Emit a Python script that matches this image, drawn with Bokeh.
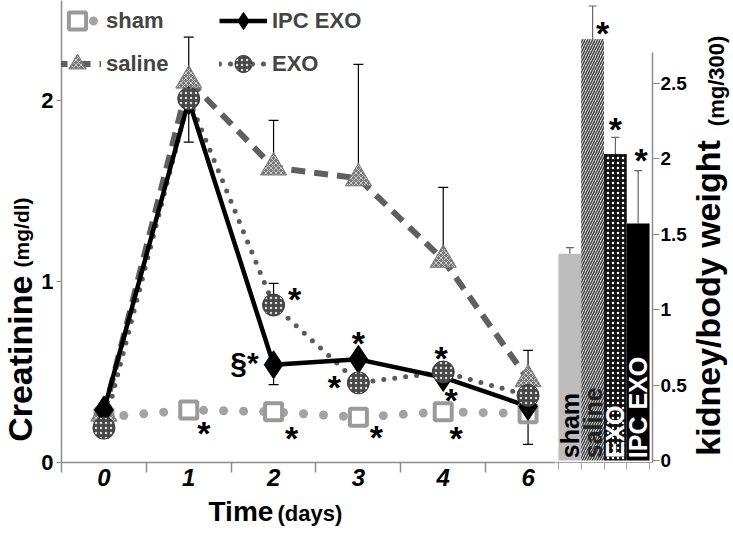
import math
from bokeh.plotting import figure
from bokeh.layouts import row, column
from bokeh.models import (Range1d, FixedTicker, ColumnDataSource, Whisker, TeeHead,
                          Legend, LegendItem)
from bokeh.core.properties import value
from bokeh.embed import file_html
from bokeh.resources import INLINE

# ---------------- data ----------------
days = ["0", "1", "2", "3", "4", "6"]
sham = [0.25, 0.29, 0.28, 0.25, 0.28, 0.27]
saline = [0.27, 2.11, 1.63, 1.57, 1.12, 0.46]
saline_err_up = [0.0, 0.24, 0.26, 0.63, 0.40, 0.16]
ipc_exo = [0.29, 2.00, 0.54, 0.57, 0.47, 0.31]
ipc_exo_err_down = [0.0, 0.23, 0.11, 0.0, 0.0, 0.21]
exo = [0.19, 2.01, 0.87, 0.44, 0.50, 0.37]
exo_err_up = [0.0, 0.0, 0.12, 0.0, 0.0, 0.0]

groups = ["sham", "saline", "EXO", "IPC EXO"]
kidney_bw = [1.37, 2.79, 2.03, 1.57]
kidney_bw_err = [0.04, 0.22, 0.11, 0.35]

creat_ticks = [0, 1, 2]
kbw_ticks = [0, 0.5, 1, 1.5, 2, 2.5]
kbw_tick_labels = ["0", "0.5", "1", "1.5", "2", "2.5"]

# significance marks: (series, day index, text)
line_marks = [("sham", 1, "*"), ("sham", 2, "*"), ("sham", 3, "*"), ("sham", 4, "*"),
              ("exo", 2, "*"), ("ipc", 3, "*"), ("exo", 3, "*"), ("exo", 4, "*"),
              ("ipc", 4, "*")]
section_mark = ("ipc", 2, "§*")
bar_marks = [1, 2, 3]

# ---------------- styles / layout ----------------
FONT = "Liberation Sans"
AX = "#8c8c8c"
line_mark_off = [(15, 18), (18, 21), (18, 15), (13, 21), (21, -11), (0, -21), (-24, -1),
                 (-2, -19), (8, 18)]
bar_mark_off = [(10, -11), (0, -30), (3, -68)]
STAR_SHIFT = 5

series = {"sham": sham, "saline": saline, "ipc": ipc_exo, "exo": exo}
idx = list(range(len(days)))

PX_X, PX_Y, PX_B = 85, 181, 151
FRAME_W_A, FRAME_H, BOTTOM = 495, 462, 32
ROW_H = FRAME_H + BOTTOM
L_W, A_LEFT, B_FRAME_W, B_RIGHT, R_W = 38, 22, 98, 36, 42
TOTAL_W = L_W + A_LEFT + FRAME_W_A + B_FRAME_W + B_RIGHT + R_W
BOT_H = 40


def blank(w, h):
    f = figure(width=w, height=h, output_backend="svg", toolbar_location=None,
               x_range=Range1d(0, w), y_range=Range1d(0, h),
               x_axis_location=None, y_axis_location=None, min_border=0)
    f.xgrid.visible = False
    f.ygrid.visible = False
    f.outline_line_color = None
    return f


def words(f, xs, ys, texts, sizes, angle, align="left"):
    f.text(x=xs, y=ys, text=texts, angle=angle, text_font=value(FONT), text_font_style="bold",
           text_font_size=sizes, text_align=align, text_baseline="middle",
           text_color="black")


# ---------------- line chart ----------------
pA = figure(width=A_LEFT + FRAME_W_A, height=ROW_H, output_backend="svg", toolbar_location=None,
            x_range=Range1d(-0.5, FRAME_W_A / PX_X - 0.5),
            y_range=Range1d(0, FRAME_H / PX_Y),
            min_border_left=A_LEFT, min_border_right=0, min_border_top=0,
            min_border_bottom=BOTTOM)
pA.xgrid.visible = False
pA.ygrid.visible = False
pA.outline_line_color = None

l_sham = pA.line(idx, sham, line_color="#a3a3a3", line_width=9, line_dash="0 20", line_cap="round")
l_sal = pA.line(idx, saline, line_color="#5f5f5f", line_width=6, line_dash="14 9")
l_exo = pA.line(idx, exo, line_color="#5a5a5a", line_width=5, line_dash="0 11", line_cap="round")
l_ipc = pA.line(idx, ipc_exo, line_color="black", line_width=4.5)


def whisk(p, xs, lo, hi, up=True, color="black", size=10, width=1.2):
    src = ColumnDataSource(dict(x=xs, lo=lo, hi=hi))
    head = TeeHead(size=size, line_color=color, line_width=width)
    w = Whisker(source=src, base="x", lower="lo", upper="hi", dimension="height",
                line_color=color, line_width=width,
                upper_head=head if up else None, lower_head=None if up else head)
    p.add_layout(w)


si = [i for i, e in enumerate(saline_err_up) if e > 0]
whisk(pA, si, [saline[i] for i in si], [saline[i] + saline_err_up[i] for i in si])
ei = [i for i, e in enumerate(exo_err_up) if e > 0]
whisk(pA, ei, [exo[i] for i in ei], [exo[i] + exo_err_up[i] for i in ei])
ii = [i for i, e in enumerate(ipc_exo_err_down) if e > 0]
whisk(pA, ii, [ipc_exo[i] - ipc_exo_err_down[i] for i in ii], [ipc_exo[i] for i in ii], up=False)

m_sham = pA.scatter(idx, sham, marker="square", size=17, fill_color="white",
                    line_color="#9a9a9a", line_width=4)
m_sal = pA.scatter(idx, saline, marker="triangle", size=26, fill_color="#7a7a7a",
                   line_color="#767676", line_width=1, hatch_pattern="x", hatch_color="white",
                   hatch_scale=5, hatch_weight=1, hatch_alpha=0.6)
m_ipc = pA.scatter(idx, ipc_exo, marker="diamond", size=28, fill_color="black", line_color="black")
m_exo = pA.scatter(idx, exo, marker="circle", size=22, fill_color="#474747", line_color="#3a3a3a",
                   hatch_pattern=".", hatch_color="white", hatch_scale=5, hatch_weight=1.6,
                   hatch_alpha=0.8)

src_marks = ColumnDataSource(dict(
    x=[m[1] for m in line_marks],
    y=[series[m[0]][m[1]] for m in line_marks],
    t=[m[2] for m in line_marks],
    dx=[o[0] for o in line_mark_off],
    dy=[o[1] + STAR_SHIFT for o in line_mark_off]))
pA.text(x="x", y="y", text="t", x_offset="dx", y_offset="dy", source=src_marks,
        text_font=value(FONT), text_font_style="bold", text_font_size="34px",
        text_align="center", text_baseline="middle", text_color="black")
pA.text(x=[section_mark[1]], y=[series[section_mark[0]][section_mark[1]]], text=[section_mark[2]],
        x_offset=-15, y_offset=-2, text_font=value(FONT), text_font_style="bold",
        text_font_size="30px", text_align="right", text_baseline="middle", text_color="black")

pA.yaxis.ticker = FixedTicker(ticks=creat_ticks)
pA.yaxis.axis_line_color = AX
pA.yaxis.axis_line_width = 1.5
pA.yaxis.major_tick_line_color = AX
pA.yaxis.major_tick_out = 5
pA.yaxis.major_tick_in = 0
pA.yaxis.minor_tick_line_color = None
pA.yaxis.major_label_text_font = FONT
pA.yaxis.major_label_text_font_style = "bold"
pA.yaxis.major_label_text_font_size = "22px"
pA.yaxis.major_label_text_color = "black"
pA.yaxis.major_label_standoff = 3

pA.xaxis.ticker = FixedTicker(ticks=idx, minor_ticks=[i - 0.5 for i in idx])
pA.xaxis.major_label_overrides = {i: d for i, d in zip(idx, days)}
pA.xaxis.axis_line_color = AX
pA.xaxis.axis_line_width = 1.5
pA.xaxis.major_tick_out = 0
pA.xaxis.major_tick_in = 0
pA.xaxis.minor_tick_out = 10
pA.xaxis.minor_tick_in = 0
pA.xaxis.minor_tick_line_color = AX
pA.xaxis.minor_tick_line_width = 1.5
pA.xaxis.major_label_text_font = FONT
pA.xaxis.major_label_text_font_style = "bold italic"
pA.xaxis.major_label_text_font_size = "24px"
pA.xaxis.major_label_text_color = "black"
pA.xaxis.major_label_standoff = -4

common = dict(glyph_width=48, glyph_height=43, spacing=0, padding=0, margin=0, label_standoff=5,
              label_text_font=FONT, label_text_font_style="bold", label_text_font_size="22px",
              border_line_color=None, background_fill_alpha=0)
leg1 = Legend(items=[LegendItem(label="sham", renderers=[l_sham, m_sham]),
                     LegendItem(label="saline", renderers=[l_sal, m_sal])],
              location=(-8, 377), **common)
leg2 = Legend(items=[LegendItem(label="IPC EXO", renderers=[l_ipc, m_ipc]),
                     LegendItem(label="EXO", renderers=[l_exo, m_exo])],
              location=(158, 377), **common)
pA.add_layout(leg1)
pA.add_layout(leg2)

# ---------------- bar chart ----------------
pB = figure(width=B_FRAME_W + B_RIGHT, height=ROW_H, output_backend="svg", toolbar_location=None,
            x_range=Range1d(-0.13, 4.13), y_range=Range1d(-2 / PX_B, 460 / PX_B),
            y_axis_location="right",
            min_border_left=0, min_border_right=B_RIGHT, min_border_top=0,
            min_border_bottom=BOTTOM)
pB.xgrid.visible = False
pB.ygrid.visible = False
pB.outline_line_color = None

bx = [i + 0.5 for i in range(len(groups))]
bsrc = ColumnDataSource(dict(
    x=bx, top=kidney_bw, g=groups,
    fill=["#bdbdbd", "#d4d4d4", "#111111", "#000000"],
    hatch=[" ", "/", ".", " "],
    hcol=["#bdbdbd", "#3a3a3a", "white", "black"],
    tcol=["black", "#222222", "white", "white"]))
pB.vbar(x="x", top="top", bottom=0, width=1, source=bsrc, fill_color="fill", line_color=None,
        hatch_pattern="hatch", hatch_color="hcol", hatch_scale=5, hatch_weight=1.3)
whisk(pB, bx, kidney_bw, [v + e for v, e in zip(kidney_bw, kidney_bw_err)],
      color="#666666", size=8, width=1.2)
pB.text(x="x", y=0.015, text="g", source=bsrc, angle=math.pi / 2, text_color="tcol",
        text_font=value(FONT), text_font_style="bold", text_font_size="25px",
        text_align="left", text_baseline="middle")
pB.text(x=[bx[i] for i in bar_marks], y=[kidney_bw[i] for i in bar_marks],
        text=["*"] * len(bar_marks),
        x_offset=[o[0] for o in bar_mark_off], y_offset=[o[1] + STAR_SHIFT for o in bar_mark_off],
        text_font=value(FONT), text_font_style="bold", text_font_size="34px",
        text_align="center", text_baseline="middle", text_color="black")

pB.yaxis.ticker = FixedTicker(ticks=kbw_ticks)
pB.yaxis.major_label_overrides = {t: s for t, s in zip(kbw_ticks, kbw_tick_labels)}
pB.yaxis.bounds = (-2 / PX_B, 2.70)
pB.yaxis.axis_line_color = AX
pB.yaxis.axis_line_width = 1.5
pB.yaxis.major_tick_line_color = AX
pB.yaxis.major_tick_out = 7
pB.yaxis.major_tick_in = 0
pB.yaxis.minor_tick_line_color = None
pB.yaxis.major_label_text_font = FONT
pB.yaxis.major_label_text_font_style = "bold"
pB.yaxis.major_label_text_font_size = "19px"
pB.yaxis.major_label_text_color = "black"
pB.yaxis.major_label_standoff = 1

pB.xaxis.ticker = FixedTicker(ticks=list(range(len(groups) + 1)))
pB.xaxis.major_label_overrides = {i: "" for i in range(len(groups) + 1)}
pB.xaxis.axis_line_color = "#a0a0a0"
pB.xaxis.major_tick_line_color = "#a0a0a0"
pB.xaxis.major_tick_out = 7
pB.xaxis.major_tick_in = 0
pB.xaxis.minor_tick_line_color = None

# ---------------- axis titles (mixed sizes), placed by their centres ----------------
pL = blank(L_W, ROW_H)
words(pL, [19, 21], [ROW_H - 383, ROW_H - 248], ["Creatinine", "(mg/dl)"], ["34px", "21px"],
      math.pi / 2, "center")

pR = blank(R_W, ROW_H)
words(pR, [18, 27], [ROW_H - 318, ROW_H - 86], ["kidney/body weight", "(mg/300)"],
      ["34px", "22px"], math.pi / 2, "center")

pBot = blank(TOTAL_W, BOT_H)
words(pBot, [208, 277], [BOT_H - 17, BOT_H - 19], ["Time", "(days)"], ["28px", "22px"], 0.0)

layout = column(row(pL, pA, pB, pR), pBot)
open("out.html", "w").write(file_html(layout, INLINE))
